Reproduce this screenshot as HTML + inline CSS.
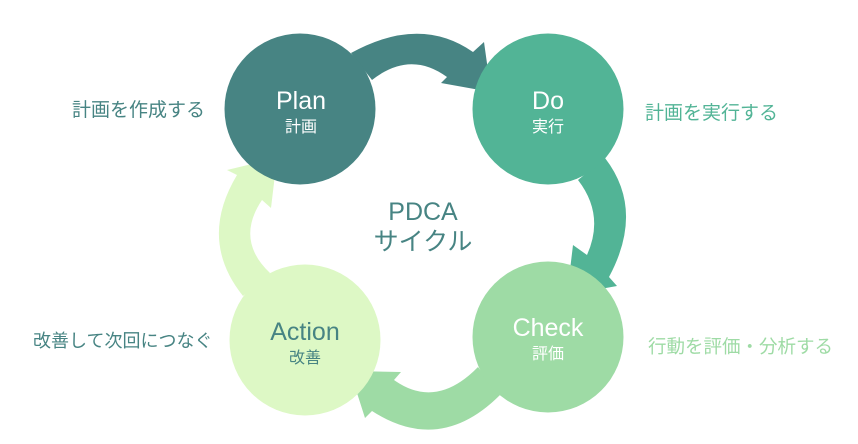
<!DOCTYPE html>
<html><head><meta charset="utf-8"><style>
body{margin:0;background:#fff;}
svg text{font-family:"Liberation Sans","Noto Sans CJK JP",sans-serif;}
</style></head><body>
<svg width="858" height="439" viewBox="0 0 858 439" xmlns="http://www.w3.org/2000/svg">
<path d="M351,53 Q420,15 473,52 L484,42 L491,92 L441,83 L447,77 Q410,50 372,80 Z" fill="#478483"/>
<path d="M605,158 Q645,210 609,277 L617,286 L567,295 L573,245 L587,255 Q605,215 578,180 Z" fill="#52b496"/>
<path d="M478,367 Q436,410 394,380 L401,372 L350,371 L365,418 L372,411 Q440,455 500,395 Z" fill="#9edba5"/>
<path d="M243,296 Q198,240 237,175 L227,170 L277,158 L271,208 L262,200 Q235,240 270,273 Z" fill="#ddf8c5"/>
<circle cx="300" cy="109" r="75.5" fill="#478483"/>
<circle cx="548" cy="109" r="75.5" fill="#52b496"/>
<circle cx="548" cy="337" r="75.5" fill="#9edba5"/>
<circle cx="305" cy="340" r="75.5" fill="#ddf8c5"/>
<g text-anchor="middle">
<text x="301" y="109" font-size="25" fill="#fff">Plan</text>
<text x="301" y="132" font-size="16" fill="#fff">計画</text>
<text x="548" y="109" font-size="25" fill="#fff">Do</text>
<text x="548" y="132" font-size="16" fill="#fff">実行</text>
<text x="548" y="336" font-size="25" fill="#fff">Check</text>
<text x="548" y="359" font-size="16" fill="#fff">評価</text>
<text x="305" y="340" font-size="25" fill="#478483">Action</text>
<text x="305" y="363" font-size="16" fill="#478483">改善</text>
<text x="423" y="220" font-size="25" fill="#478483">PDCA</text>
<text x="423" y="250" font-size="25" fill="#478483">サイクル</text>
</g>
<text x="72" y="116" font-size="19" fill="#478483">計画を作成する</text>
<text x="645" y="119" font-size="19" fill="#52b496">計画を実行する</text>
<text x="33" y="347" font-size="18" fill="#478483">改善して次回につなぐ</text>
<text x="648" y="353" font-size="18.5" fill="#9edba5">行動を評価・分析する</text>
</svg>
</body></html>
